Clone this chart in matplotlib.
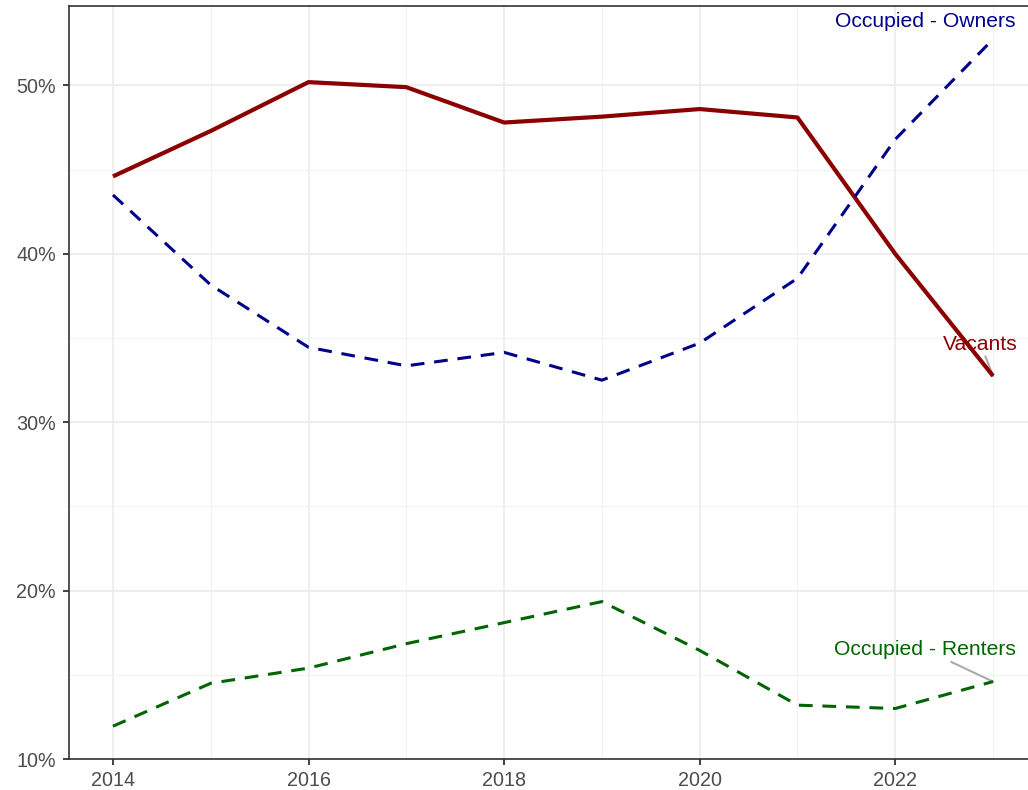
import matplotlib
matplotlib.use("Agg")
import matplotlib.pyplot as plt
from matplotlib.ticker import MultipleLocator, FuncFormatter

# ===== DATA =====
years = [2014, 2015, 2016, 2017, 2018, 2019, 2020, 2021, 2022, 2023]
vacants = [44.6, 47.3, 50.2, 49.9, 47.8, 48.15, 48.6, 48.1, 40.0, 32.75]
owners = [43.5, 38.15, 34.45, 33.35, 34.15, 32.5, 34.7, 38.55, 46.8, 52.75]
renters = [11.95, 14.5, 15.4, 16.85, 18.1, 19.35, 16.45, 13.2, 13.0, 14.6]

series_names = ["Vacants", "Occupied - Owners", "Occupied - Renters"]
series_colors = ["#8B0000", "#00008B", "#006400"]

# ===== STYLE =====
plt.rcParams["font.family"] = ["Liberation Sans", "DejaVu Sans"]

fig = plt.figure(figsize=(10.28, 7.9), dpi=100)
ax = fig.add_axes([0.0671, 0.0392, 0.9417, 0.9532])

ax.plot(years, vacants, color=series_colors[0], lw=3.0, solid_capstyle="butt", zorder=3)
ax.plot(years, owners, color=series_colors[1], lw=2.2, dashes=(4.5, 3.2), zorder=3)
ax.plot(years, renters, color=series_colors[2], lw=2.2, dashes=(4.5, 3.2), zorder=3)

# end labels (offsets in points from last point)
label_offsets = [(-9, 23), (-49, 13), (-49, 23)]
show_segment = [True, False, True]
for vals, name, col, off, seg in zip([vacants, owners, renters], series_names,
                                     series_colors, label_offsets, show_segment):
    kw = dict(arrowprops=dict(arrowstyle="-", color="#ABABAB", lw=1.5,
                              shrinkA=0, shrinkB=0)) if seg else {}
    ax.annotate(name, xy=(years[-1], vals[-1]), xytext=off, textcoords="offset points",
                ha="center", va="center", color=col, fontsize=15.2, zorder=2, **kw)

ax.set_xlim(2013.55, 2023.45)
ax.set_ylim(10, 54.72)
ax.xaxis.set_major_locator(MultipleLocator(2))
ax.xaxis.set_minor_locator(MultipleLocator(1))
ax.yaxis.set_major_locator(MultipleLocator(10))
ax.yaxis.set_minor_locator(MultipleLocator(5))
ax.yaxis.set_major_formatter(FuncFormatter(lambda v, p: f"{v:.0f}%"))

ax.grid(which="major", color="#EBEBEB", lw=1.2, zorder=0)
ax.grid(which="minor", color="#F2F2F2", lw=0.8, zorder=0)
ax.set_axisbelow(True)

for s in ax.spines.values():
    s.set_color("#333333")
    s.set_linewidth(1.2)

ax.tick_params(which="major", length=4.5, width=1.3, color="#333333",
               labelcolor="#4D4D4D", labelsize=14.2)
ax.tick_params(axis="y", pad=5)
ax.tick_params(axis="x", pad=4)
ax.tick_params(which="minor", length=0)

fig.savefig("out.png", dpi=100)
